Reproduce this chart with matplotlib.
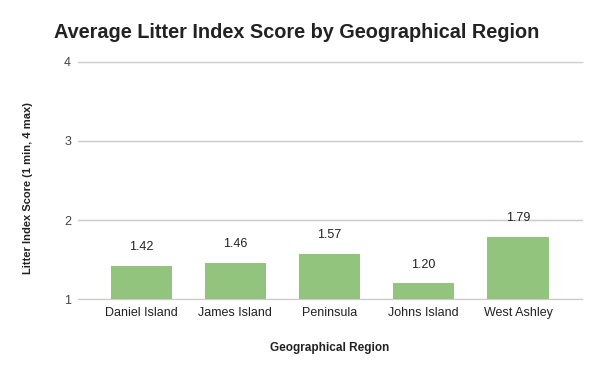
import matplotlib
matplotlib.use("Agg")
import matplotlib.pyplot as plt

regions = ["Daniel Island", "James Island", "Peninsula", "Johns Island", "West Ashley"]
scores = [1.42, 1.46, 1.57, 1.20, 1.79]
yticks = [1, 2, 3, 4]

plt.rcParams['font.family'] = ['Liberation Sans', 'DejaVu Sans']

fig = plt.figure(figsize=(6, 3.71), dpi=100)
ax = fig.add_axes([0.13, 0.194, 0.84, 0.639])

x = list(range(len(regions)))
bars = ax.bar(x, [s - 1 for s in scores], bottom=1, width=0.65, color="#93c47d", zorder=3)
for xi, s in zip(x, scores):
    ax.annotate(f"{s:.2f}", (xi, s), xytext=(0, 9), textcoords="offset points",
                ha="center", va="bottom", fontsize=9, color="#222222")

ax.set_ylim(1, 4)
ax.set_xlim(-0.67, 4.68)
ax.set_yticks(yticks)
ax.set_yticklabels([str(t) for t in yticks], fontsize=9, color="#444444")
ax.set_xticks(x)
ax.set_xticklabels(regions, fontsize=9, color="#222222")
ax.tick_params(axis="both", length=0, pad=6)
ax.tick_params(axis="y", pad=5)
ax.grid(axis="y", color="#cccccc", linewidth=0.9, zorder=0)
for t in yticks:
    ax.axhline(t, color="#cccccc", linewidth=0.9, zorder=1, clip_on=False)
for sp in ax.spines.values():
    sp.set_visible(False)

ax.set_xlabel("Geographical Region", fontsize=8.5, fontweight="bold", color="#222222", labelpad=16)
ax.set_ylabel("Litter Index Score (1 min, 4 max)", fontsize=8, fontweight="bold", color="#222222",
              labelpad=22, y=0.47)

fig.text(0.495, 0.912, "Average Litter Index Score by Geographical Region", ha="center", va="center",
         fontsize=14.3, fontweight="bold", color="#222222")

fig.savefig("out.png", dpi=100, facecolor="white")
